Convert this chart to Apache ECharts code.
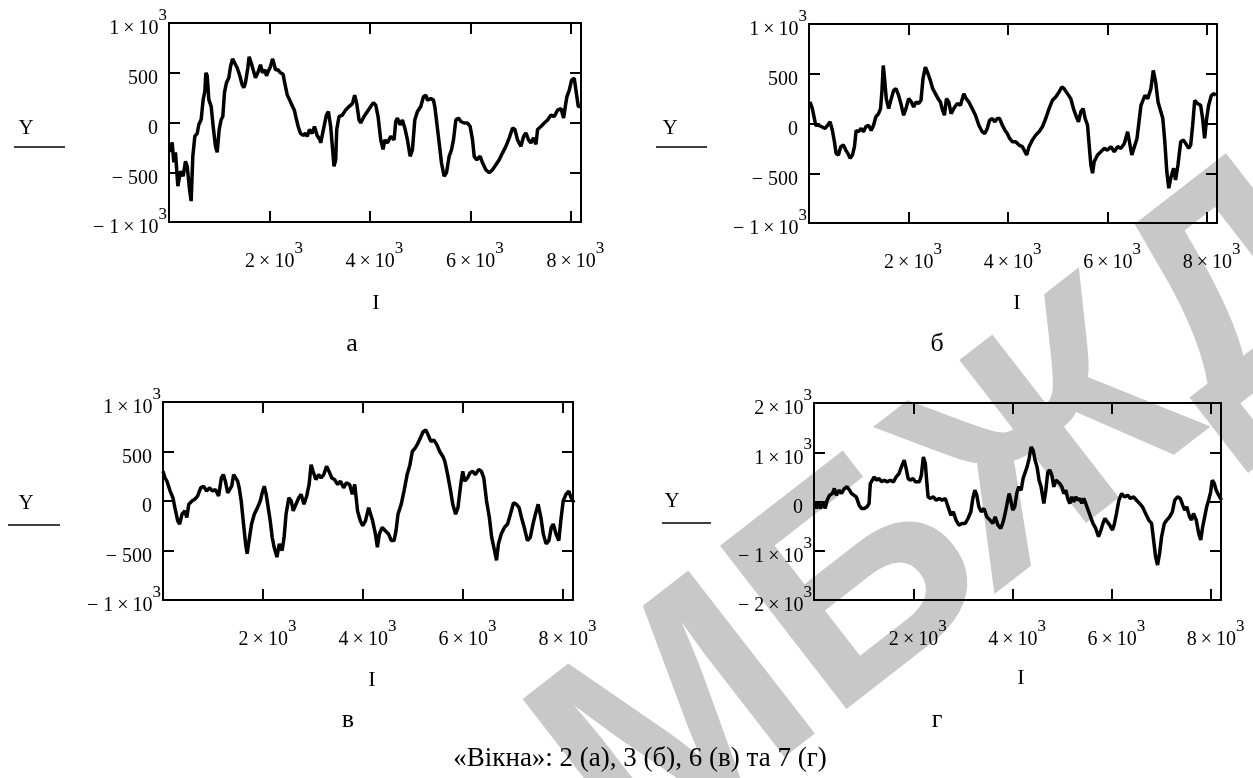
<!DOCTYPE html>
<html><head><meta charset="utf-8">
<script src="https://cdn.jsdelivr.net/npm/echarts@6.0.0/dist/echarts.min.js"></script>
<style>html,body{margin:0;padding:0;background:#fff}#c{width:1253px;height:778px}</style>
</head><body><div id="c"></div>
<script>
// ---- data ----
const aX = [30,63,96,129,176,229,282,328,362,408,441,474,514,561,594,640,680,713,733,760,793,840,879,925,959,999,1039,1071,1104,1144,1191,1224,1264,1303,1356,1410,1456,1489,1522,1569,1595,1635,1675,1721,1768,1821,1861,1907,1940,1980,2020,2060,2086,2119,2166,2219,2272,2298,2352,2398,2451,2497,2537,2571,2617,2670,2716,2750,2796,2850,2895,2949,3001,3019,3132,3172,3218,3251,3284,3318,3338,3384,3450,3517,3583,3650,3696,3736,3783,3816,3882,3949,4015,4068,4115,4161,4214,4261,4294,4347,4414,4480,4513,4546,4600,4646,4693,4746,4799,4845,4892,4945,5011,5065,5111,5144,5211,5264,5290,5330,5377,5423,5476,5523,5576,5622,5662,5709,5761,5808,5875,5941,5994,6041,6074,6127,6193,6240,6306,6373,6439,6506,6572,6639,6705,6772,6838,6884,6937,7004,7057,7103,7157,7203,7256,7303,7336,7402,7469,7535,7602,7668,7735,7801,7854,7887,7920,7967,8013,8066,8099,8146,8199];
const aY = [-300,-200,-400,-300,-640,-490,-540,-390,-440,-670,-790,-340,-140,-110,-20,30,230,310,500,470,230,160,-40,-240,-300,-70,30,60,300,400,450,560,640,635,550,470,380,350,400,550,660,600,530,450,500,580,500,530,470,520,560,640,600,530,530,500,485,410,280,230,170,120,30,-40,-110,-130,-110,-140,-70,-110,-40,-130,-170,-205,75,110,-40,-240,-440,-375,-70,60,75,125,160,190,275,190,25,-5,60,110,160,200,175,60,-175,-270,-175,-205,-140,-175,10,45,-25,25,-55,-175,-340,-275,25,110,160,260,275,225,240,225,160,-5,-205,-405,-540,-505,-340,-275,-175,25,45,10,-5,-5,-40,-175,-340,-375,-340,-405,-475,-505,-475,-425,-375,-305,-240,-155,-55,-70,-175,-240,-140,-105,-175,-205,-155,-220,-70,-40,-5,25,75,60,125,140,45,160,260,325,425,445,325,160,160];

const bX = [20,67,108,134,188,255,323,376,423,470,511,544,591,638,692,739,780,827,873,914,947,994,1048,1095,1142,1196,1250,1297,1344,1398,1438,1465,1492,1519,1553,1600,1654,1701,1748,1801,1855,1902,1949,2002,2056,2103,2150,2204,2251,2291,2339,2392,2439,2486,2540,2594,2641,2675,2722,2762,2809,2856,2910,2977,3044,3111,3158,3212,3279,3346,3413,3481,3534,3582,3629,3683,3736,3784,3830,3884,3938,3985,4032,4086,4153,4220,4287,4341,4375,4422,4489,4556,4623,4691,4758,4825,4892,4959,5026,5080,5127,5194,5261,5315,5362,5416,5463,5510,5550,5598,5631,5665,5699,5732,5799,5866,5933,6001,6068,6135,6202,6269,6337,6404,6488,6592,6672,6752,6808,6871,6919,6967,7015,7072,7111,7151,7191,7231,7271,7328,7367,7415,7471,7527,7592,7631,7671,7711,7752,7808,7871,7911,7951,7992,8032,8088,8136,8176];
const bY = [217,150,50,-17,-17,-33,-50,-17,17,-70,-183,-300,-317,-233,-217,-267,-300,-350,-317,-233,-70,-83,-50,-83,-33,-17,-70,-17,67,100,150,317,583,450,250,150,250,333,350,283,183,83,150,250,217,167,217,200,233,450,567,500,433,350,300,250,217,150,83,250,217,100,150,200,183,300,250,217,150,83,-17,-83,-100,-50,33,50,17,50,50,-17,-67,-100,-150,-183,-183,-217,-233,-283,-317,-233,-167,-117,-83,-33,50,150,233,267,317,367,350,300,250,150,83,17,117,150,50,-17,-217,-417,-500,-383,-317,-283,-250,-267,-233,-283,-233,-250,-200,-83,-317,-150,183,283,250,350,533,417,217,117,50,-183,-483,-650,-550,-450,-567,-417,-183,-167,-217,-250,-217,-17,233,200,183,50,-150,50,183,283,300,283];

const vX = [0,40,79,143,198,238,294,333,381,437,476,516,580,635,691,754,810,873,929,992,1048,1112,1167,1207,1247,1294,1334,1374,1413,1453,1493,1524,1564,1604,1652,1683,1731,1771,1826,1890,1945,1985,2025,2064,2104,2144,2184,2223,2279,2326,2382,2422,2461,2517,2565,2604,2660,2716,2763,2819,2874,2922,2962,3001,3057,3113,3160,3216,3271,3319,3375,3430,3494,3549,3613,3668,3732,3787,3835,3891,3946,3994,4049,4113,4153,4192,4248,4288,4327,4383,4446,4510,4566,4621,4661,4700,4764,4820,4883,4939,4986,5042,5097,5145,5201,5256,5304,5360,5415,5479,5534,5598,5637,5693,5741,5796,5852,5899,5955,5995,6034,6090,6138,6193,6249,6312,6368,6416,6471,6527,6574,6630,6670,6709,6765,6828,6892,6948,7011,7067,7122,7170,7225,7289,7345,7400,7448,7503,7559,7606,7662,7718,7765,7805,7861,7916,7956,8004,8059,8115,8162,8218];
const vY = [300,233,200,100,33,-67,-200,-233,-133,-100,-167,-33,0,17,50,133,150,100,133,100,117,50,233,267,200,83,67,150,267,233,200,133,0,-200,-433,-533,-367,-233,-133,-67,0,83,150,67,-67,-200,-367,-467,-567,-433,-500,-367,-133,33,0,-100,-33,33,67,-33,50,167,367,300,217,267,233,267,350,300,233,217,167,200,133,183,167,67,167,-100,-200,-250,-200,-67,-83,-200,-333,-467,-333,-267,-300,-333,-400,-400,-300,-133,-33,100,267,367,500,533,583,633,700,717,667,600,617,567,500,450,400,267,133,-33,-133,-67,167,300,200,233,283,300,267,317,300,233,0,-167,-367,-500,-600,-433,-333,-267,-233,-133,-17,-33,-67,-167,-267,-400,-367,-233,-133,-33,-167,-333,-433,-400,-267,-233,-333,-400,-200,0,67,100,33,-17];

const gX = [8,48,88,129,185,225,265,314,370,410,450,507,555,611,667,716,756,796,852,909,957,1013,1069,1110,1134,1174,1214,1254,1311,1359,1415,1479,1536,1600,1656,1713,1761,1817,1857,1897,1938,1994,2042,2082,2123,2163,2203,2243,2275,2299,2340,2404,2460,2525,2581,2645,2701,2758,2806,2862,2919,2983,3047,3103,3160,3200,3240,3280,3321,3369,3425,3481,3546,3602,3650,3706,3763,3811,3851,3891,3932,3964,4004,4044,4084,4125,4173,4213,4253,4293,4334,4374,4414,4454,4494,4535,4575,4631,4671,4711,4752,4792,4832,4872,4912,4953,4993,5033,5073,5113,5154,5194,5234,5274,5314,5355,5395,5435,5475,5515,5572,5620,5676,5733,5781,5821,5861,5901,5958,6014,6054,6094,6143,6199,6255,6319,6376,6440,6496,6561,6617,6681,6745,6802,6842,6882,6922,6963,7003,7059,7107,7164,7220,7268,7324,7381,7429,7469,7509,7566,7606,7646,7702,7751,7791,7831,7871,7911,7951,7992,8024,8064,8104,8153,8209];
const gY = [-40,-140,-7,-140,-40,-140,27,128,162,264,128,230,162,264,297,230,162,196,95,-74,-142,-142,-108,-40,365,399,500,432,466,399,432,399,432,399,500,568,703,838,669,466,432,466,399,432,399,534,905,770,365,95,61,95,27,61,27,61,-108,-277,-209,-378,-480,-446,-446,-345,-209,61,230,128,-108,-209,-142,-311,-378,-446,-311,-480,-547,-412,-243,-40,162,27,-176,-108,162,297,230,466,500,703,872,1108,1041,838,703,432,297,-40,230,601,635,534,297,432,466,365,297,162,230,61,-40,95,-7,95,27,61,-40,61,-40,-74,-311,-446,-547,-716,-581,-446,-345,-378,-480,-581,-446,-243,27,162,95,128,61,95,27,-40,-108,-243,-378,-446,-784,-1122,-1290,-1054,-716,-446,-378,-311,-209,27,95,61,-74,-176,-108,-311,-378,-243,-378,-649,-784,-514,-311,-108,27,196,432,365,230,128,27];

// ---- tick labels and texts ----
const xTickValues = [2000, 4000, 6000, 8000];
const xTickText = ['2\u2009×\u200910', '4\u2009×\u200910', '6\u2009×\u200910', '8\u2009×\u200910'];
const yTicks1 = [-1000, -500, 0, 500, 1000];
const yText1 = ['\u2212 1\u2009×\u200910', '\u2212 500', '0', '500', '1\u2009×\u200910'];
const ySup1 = [true, false, false, false, true];
const yTicks2 = [-2000, -1000, 0, 1000, 2000];
const yText2 = ['\u2212 2\u2009×\u200910', '\u2212 1\u2009×\u200910', '0', '1\u2009×\u200910', '2\u2009×\u200910'];
const ySup2 = [true, true, false, true, true];
const expText = '3';
const yName = 'Y';
const xName = 'I';
const panelLetters = ['а', 'б', 'в', 'г'];
const caption = '«Вікна»: 2 (а), 3 (б), 6 (в) та 7 (г)';
const watermark = 'МБЖД';

// ---- layout ----
const FONT = '"Liberation Serif", "Times New Roman", serif';
const panels = [
  {X: aX, Y: aY, grid: {left: 169, top: 23, width: 412, height: 199}, yMin: -1000, yMax: 1000, yInt: 500, ticks: yTicks1, texts: yText1, sup: ySup1,
   yLab: [26, 128], uLine: [14, 65, 147], iLab: [376, 303], letter: [352, 344]},
  {X: bX, Y: bY, grid: {left: 809, top: 24, width: 408, height: 199}, yMin: -1000, yMax: 1000, yInt: 500, ticks: yTicks1, texts: yText1, sup: ySup1,
   yLab: [670, 128], uLine: [656, 707, 147], iLab: [1017, 303], letter: [937, 344]},
  {X: vX, Y: vY, grid: {left: 163, top: 402, width: 410, height: 198}, yMin: -1000, yMax: 1000, yInt: 500, ticks: yTicks1, texts: yText1, sup: ySup1,
   yLab: [26, 503], uLine: [8, 60, 525], iLab: [372, 680], letter: [348, 720]},
  {X: gX, Y: gY, grid: {left: 814, top: 403, width: 407, height: 197}, yMin: -2000, yMax: 2000, yInt: 1000, ticks: yTicks2, texts: yText2, sup: ySup2,
   yLab: [672, 501], uLine: [662, 711, 523], iLab: [1021, 678], letter: [937, 720]}
];

const rich = {
  m: {fontFamily: FONT, fontSize: 20, color: '#000', lineHeight: 32, verticalAlign: 'bottom'},
  s: {fontFamily: FONT, fontSize: 17, color: '#000', lineHeight: 17, verticalAlign: 'top'},
  p: {fontFamily: FONT, fontSize: 17, width: 9, lineHeight: 17}
};
const black = {color: '#000', width: 2};

const grids = [], xAxes = [], yAxes = [], series = [], graphics = [];
panels.forEach((p, i) => {
  grids.push(Object.assign({containLabel: false}, p.grid));
  const xBase = {gridIndex: i, type: 'value', min: 0, max: 8200, interval: 2000,
    axisLine: {show: true, onZero: false, lineStyle: black},
    axisTick: {show: true, inside: true, length: 11, lineStyle: black},
    splitLine: {show: false}};
  xAxes.push(Object.assign({}, xBase, {position: 'bottom',
    axisLabel: {margin: 18, rich: rich, showMinLabel: false, showMaxLabel: false,
      formatter: v => { const k = xTickValues.indexOf(v); return k < 0 ? '' : '{p| }{m|' + xTickText[k] + '}{s|' + expText + '}'; }}}));
  xAxes.push(Object.assign({}, xBase, {position: 'top', axisLabel: {show: false}}));
  const yBase = {gridIndex: i, type: 'value', min: p.yMin, max: p.yMax, interval: p.yInt,
    axisLine: {show: true, onZero: false, lineStyle: black},
    axisTick: {show: true, inside: true, length: 11, lineStyle: black},
    splitLine: {show: false}};
  yAxes.push(Object.assign({}, yBase, {position: 'left',
    axisLabel: {margin: 2, rich: rich,
      formatter: v => { const k = p.ticks.indexOf(v); if (k < 0) return '';
        return p.sup[k] ? '{m|' + p.texts[k] + '}{s|' + expText + '}' : '{m|' + p.texts[k] + '}{p| }'; }}}));
  yAxes.push(Object.assign({}, yBase, {position: 'right', axisLabel: {show: false}}));
  series.push({type: 'line', xAxisIndex: 2 * i, yAxisIndex: 2 * i, showSymbol: false, silent: true,
    lineStyle: {color: '#000', width: 3.5}, data: p.X.map((x, k) => [x, p.Y[k]])});
  graphics.push({type: 'text', x: p.yLab[0], y: p.yLab[1], z: 10,
    style: {text: yName, fontFamily: FONT, fontSize: 21, fill: '#000', align: 'center', verticalAlign: 'middle'}});
  graphics.push({type: 'line', z: 10, shape: {x1: p.uLine[0], y1: p.uLine[2], x2: p.uLine[1], y2: p.uLine[2]},
    style: {stroke: '#000', lineWidth: 1.5}});
  graphics.push({type: 'text', x: p.iLab[0], y: p.iLab[1], z: 10,
    style: {text: xName, fontFamily: FONT, fontSize: 22, fill: '#000', align: 'center', verticalAlign: 'middle'}});
  graphics.push({type: 'text', x: p.letter[0], y: p.letter[1], z: 10,
    style: {text: panelLetters[i], fontFamily: FONT, fontSize: 26, fill: '#000', align: 'center', verticalAlign: 'middle'}});
});
graphics.push({type: 'text', x: 640, y: 759, z: 10,
  style: {text: caption, fontFamily: FONT, fontSize: 27, fill: '#000', align: 'center', verticalAlign: 'middle'}});
graphics.push({type: 'text', x: 955, y: 520, rotation: 0.66, z: -5,
  style: {text: watermark, fontFamily: '"Liberation Sans", Arial, sans-serif', fontWeight: 'bold', fontSize: 300, fill: '#c8c8c8', align: 'center', verticalAlign: 'middle'}});

const chart = echarts.init(document.getElementById('c'), null, {renderer: 'canvas'});
chart.setOption({
  animation: false,
  backgroundColor: '#fff',
  grid: grids, xAxis: xAxes, yAxis: yAxes, series: series,
  graphic: {elements: graphics}
});
</script>
</body></html>
